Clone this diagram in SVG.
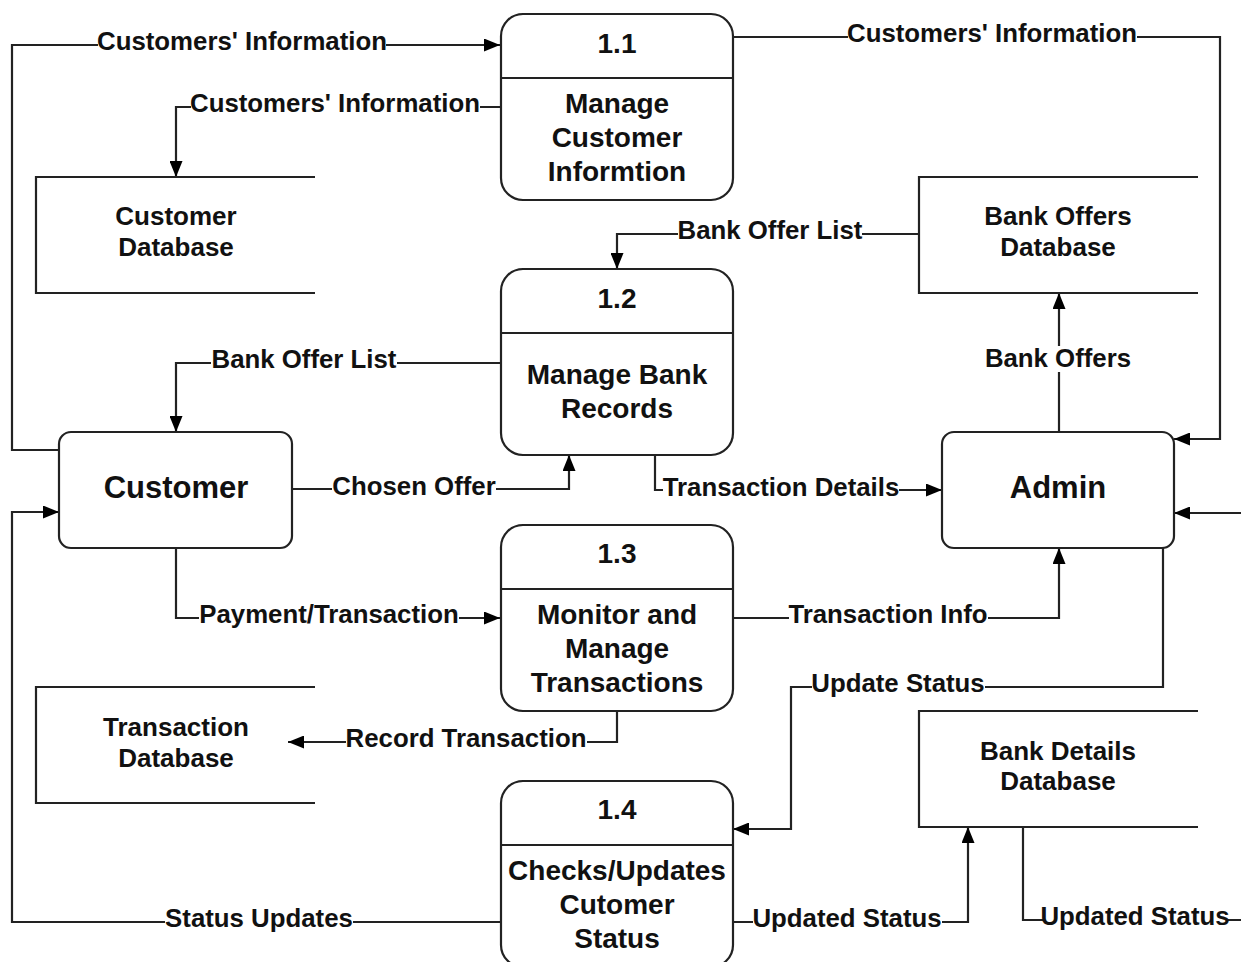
<svg xmlns="http://www.w3.org/2000/svg" width="1241" height="962" viewBox="0 0 1241 962">
<defs>
<marker id="arr" markerUnits="userSpaceOnUse" markerWidth="17" markerHeight="13" refX="16" refY="6.5" orient="auto">
<path d="M0,0 L16,6.5 L0,13 z" fill="#000"/>
</marker>
<style>
.box{fill:#fff;stroke:#222;stroke-width:2.2}
.ln{fill:none;stroke:#222;stroke-width:2.2}
.edge{fill:none;stroke:#222;stroke-width:2.2}
.arw{marker-end:url(#arr)}
.bg{fill:#fff}
text{font-family:"Liberation Sans",Arial,sans-serif;font-weight:bold;fill:#111;text-anchor:middle}
.pt{font-size:28px}
.lb{font-size:25.8px}
.db{font-size:26px}
.ent{font-size:31px}
</style>
</defs>
<rect width="1241" height="962" fill="#fff"/>

<g id="connectors">
<path class="edge arw" d="M59,450 L12,450 L12,45 L500,45"/>
<path class="edge arw" d="M500,107 L176,107 L176,177"/>
<path class="edge arw" d="M733,37 L1220,37 L1220,439 L1174,439"/>
<path class="edge arw" d="M919,234 L617,234 L617,269"/>
<path class="edge arw" d="M500,363 L176,363 L176,432"/>
<path class="edge arw" d="M1059,432 L1059,293"/>
<path class="edge arw" d="M293,489 L569,489 L569,455"/>
<path class="edge arw" d="M655,455 L655,490 L942,490"/>
<path class="edge arw" d="M176,548 L176,618 L500,618"/>
<path class="edge arw" d="M733,618 L1059,618 L1059,548"/>
<path class="edge arw" d="M1163,548 L1163,687 L791,687 L791,829 L733,829"/>
<path class="edge arw" d="M617,711 L617,742 L288,742"/>
<path class="edge arw" d="M500,922 L12,922 L12,512 L59,512"/>
<path class="edge arw" d="M733,922 L968,922 L968,827"/>
<path class="edge" d="M1023,827 L1023,920 L1241,920"/>
<path class="edge arw" d="M1241,513 L1174,513"/>

<rect class="bg" x="98" y="32" width="288" height="24"/>
<text class="lb" x="242" y="50">Customers' Information</text>
<rect class="bg" x="191" y="94" width="289" height="24"/>
<text class="lb" x="335" y="112">Customers' Information</text>
<rect class="bg" x="848" y="24" width="289" height="24"/>
<text class="lb" x="992" y="42">Customers' Information</text>
<rect class="bg" x="678" y="221" width="184" height="24"/>
<text class="lb" x="770" y="239">Bank Offer List</text>
<rect class="bg" x="211" y="350" width="186" height="24"/>
<text class="lb" x="304" y="368">Bank Offer List</text>
<rect class="bg" x="985" y="346" width="146" height="26"/>
<text class="lb" x="1058" y="367">Bank Offers</text>
<rect class="bg" x="332" y="476" width="164" height="24"/>
<text class="lb" x="414" y="495">Chosen Offer</text>
<rect class="bg" x="663" y="477" width="236" height="24"/>
<text class="lb" x="781" y="496">Transaction Details</text>
<rect class="bg" x="199" y="605" width="260" height="24"/>
<text class="lb" x="329" y="623">Payment/Transaction</text>
<rect class="bg" x="789" y="605" width="199" height="24"/>
<text class="lb" x="888" y="623">Transaction Info</text>
<rect class="bg" x="812" y="674" width="173" height="24"/>
<text class="lb" x="898" y="692">Update Status</text>
<rect class="bg" x="346" y="729" width="241" height="24"/>
<text class="lb" x="466" y="747">Record Transaction</text>
<rect class="bg" x="165" y="909" width="188" height="24"/>
<text class="lb" x="259" y="927">Status Updates</text>
<rect class="bg" x="753" y="909" width="189" height="24"/>
<text class="lb" x="847" y="927">Updated Status</text>
<rect class="bg" x="1043" y="907" width="185" height="24"/>
<text class="lb" x="1135" y="925">Updated Status</text>
</g>

<g id="p11">
<rect class="box" x="501" y="14" width="232" height="186" rx="22"/>
<line class="ln" x1="501" y1="78" x2="733" y2="78"/>
<text class="pt" x="617" y="53">1.1</text>
<text class="pt" x="617" y="113">Manage</text>
<text class="pt" x="617" y="147">Customer</text>
<text class="pt" x="617" y="181">Informtion</text>
</g>

<g id="p12">
<rect class="box" x="501" y="269" width="232" height="186" rx="22"/>
<line class="ln" x1="501" y1="333" x2="733" y2="333"/>
<text class="pt" x="617" y="308">1.2</text>
<text class="pt" x="617" y="384">Manage Bank</text>
<text class="pt" x="617" y="418">Records</text>
</g>

<g id="p13">
<rect class="box" x="501" y="525" width="232" height="186" rx="22"/>
<line class="ln" x1="501" y1="589" x2="733" y2="589"/>
<text class="pt" x="617" y="563">1.3</text>
<text class="pt" x="617" y="624">Monitor and</text>
<text class="pt" x="617" y="658">Manage</text>
<text class="pt" x="617" y="692">Transactions</text>
</g>

<g id="p14">
<rect class="box" x="501" y="781" width="232" height="186" rx="22"/>
<line class="ln" x1="501" y1="845" x2="733" y2="845"/>
<text class="pt" x="617" y="819">1.4</text>
<text class="pt" x="617" y="880">Checks/Updates</text>
<text class="pt" x="617" y="914">Cutomer</text>
<text class="pt" x="617" y="948">Status</text>
</g>

<g id="customer">
<rect class="box" x="59" y="432" width="233" height="116" rx="12"/>
<text class="ent" x="176" y="498">Customer</text>
</g>

<g id="admin">
<rect class="box" x="942" y="432" width="232" height="116" rx="12"/>
<text class="ent" x="1058" y="498">Admin</text>
</g>

<g id="customer-db">
<path class="ln" d="M315,177 L36,177 L36,293 L315,293"/>
<text class="db" x="176" y="225">Customer</text>
<text class="db" x="176" y="256">Database</text>
</g>

<g id="bank-offers-db">
<path class="ln" d="M1198,177 L919,177 L919,293 L1198,293"/>
<text class="db" x="1058" y="225">Bank Offers</text>
<text class="db" x="1058" y="256">Database</text>
</g>

<g id="transaction-db">
<path class="ln" d="M315,687 L36,687 L36,803 L315,803"/>
<text class="db" x="176" y="736">Transaction</text>
<text class="db" x="176" y="767">Database</text>
</g>

<g id="bank-details-db">
<path class="ln" d="M1198,711 L919,711 L919,827 L1198,827"/>
<text class="db" x="1058" y="760">Bank Details</text>
<text class="db" x="1058" y="790">Database</text>
</g>
</svg>
